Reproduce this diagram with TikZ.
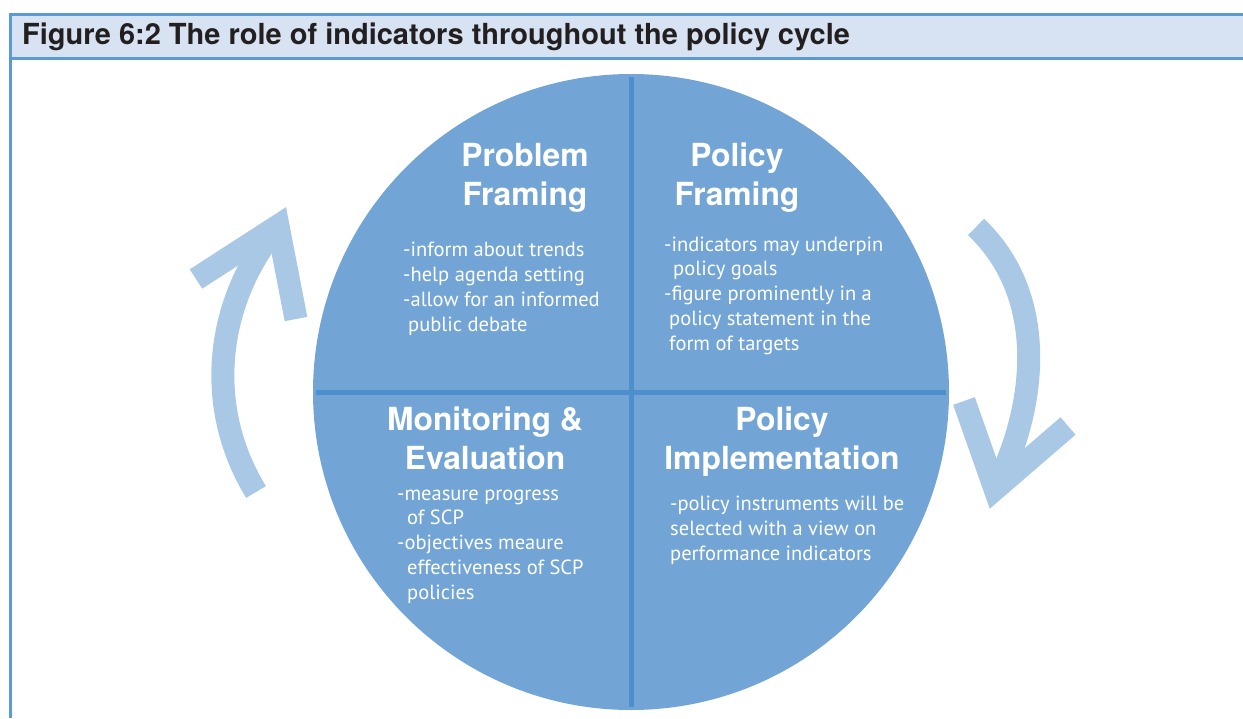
\documentclass[tikz,border=0pt]{standalone}
\usepackage{fontspec}
\setmainfont{TeX Gyre Heros}
\newfontfamily\bodyfont{PT Sans}
\usepackage{xcolor}
\usetikzlibrary{positioning}
\definecolor{frameblue}{HTML}{5B9BD5}
\definecolor{bandfill}{HTML}{D7E3F3}
\definecolor{circleblue}{HTML}{72A5D6}
\definecolor{crossblue}{HTML}{4D8ECD}
\definecolor{arrowblue}{HTML}{A9C8E5}
\definecolor{titleink}{HTML}{231F20}
\tikzset{
    heading/.style={text=white, font=\fontsize{31.8}{39}\selectfont\bfseries, align=center, anchor=base, inner sep=0pt},
    bullets/.style={text=white, font=\bodyfont\fontsize{20.5}{24.7}\selectfont, align=left, anchor=base west, inner sep=0pt},
    cyclearrow/.style={draw=arrowblue, line width=23pt},
    crossline/.style={draw=crossblue, line width=5pt},
    frame/.style={draw=frameblue, line width=3pt}
}

\begin{document}
\begin{tikzpicture}[x=1pt, y=-1pt]
    \useasboundingbox (0,0) rectangle (1243,718);

    % header band and frame
    \fill[bandfill] (10,14) rectangle (1243,58);
    \draw[frame] (1243,14) -- (10,14) -- (10,718);
    \draw[frame] (10,58) -- (1243,58);
    \node (title) [anchor=base west, inner sep=0pt, text=titleink, font=\fontsize{29}{34}\selectfont\bfseries] at (22,44) {Figure 6:2 The role of indicators throughout the policy cycle};

    % the cycle
    \node (cycle) [circle, fill=circleblue, minimum size=636pt, inner sep=0pt] at (631,392) {};
    \draw[crossline] ([yshift=-3pt]cycle.north) -- ([yshift=3pt]cycle.south);
    \draw[crossline] ([xshift=3pt]cycle.west) -- ([xshift=-3pt]cycle.east);

    % arrows round the cycle
    \draw[cyclearrow] (256,492) .. controls (200,400) and (220,295) .. (278,226);
    \draw[cyclearrow, line join=miter] (196,279) -- (278,226) -- (296,319);
    \draw[cyclearrow] (976,227) .. controls (1048,295) and (1038,405) .. (995,489);
    \draw[cyclearrow, line join=miter] (964,401) -- (995,489) -- (1068,426);

    % quadrants (base = last line)
    \node (probhead) [heading] at (525,205) {Problem\\Framing};
    \node (probtext) [bullets] at (403,331) {-inform about trends\\-help agenda setting\\-allow for an informed\\\hspace*{5pt}public debate};

    \node (framehead) [heading] at (737,205) {Policy\\Framing};
    \node (frametext) [bullets] at (664,350) {-indicators may underpin\\\hspace*{9pt}policy goals\\-figure prominently in a\\\hspace*{5pt}policy statement in the\\\hspace*{5pt}form of targets};

    \node (monhead) [heading] at (485,469) {Monitoring \&\\Evaluation};
    \node (montext) [bullets] at (397,599) {-measure progress\\\hspace*{10pt}of SCP\\-objectives meaure\\\hspace*{10pt}effectiveness of SCP\\\hspace*{10pt}policies};

    \node (implhead) [heading] at (782,469) {Policy\\Implementation};
    \node (impltext) [bullets] at (670,560) {-policy instruments will be\\selected with a view on\\performance indicators};
\end{tikzpicture}
\end{document}
